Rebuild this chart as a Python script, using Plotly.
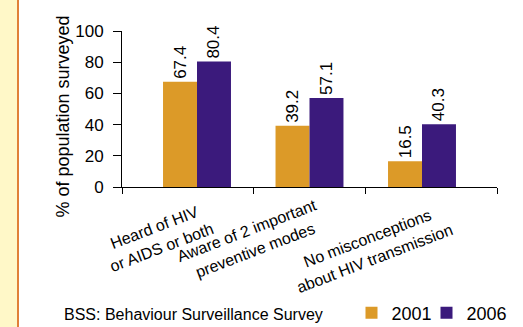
import math
import plotly.graph_objects as go

category_lines = [["Heard of HIV", "or AIDS or both"],
                  ["Aware of 2 important", "preventive modes"],
                  ["No misconceptions", "about HIV transmission"]]
years = ["2001", "2006"]
values_2001 = [67.4, 39.2, 16.5]
values_2006 = [80.4, 57.1, 40.3]
y_ticks = [0, 20, 40, 60, 80, 100]
y_title = "% of population surveyed"
footnote = "BSS: Behaviour Surveillance Survey"

C2001 = "#DC9A28"
C2006 = "#3B1A7C"
FONT = "Liberation Sans, Arial, sans-serif"

W, H = 523, 327
L, R, T, B = 122, 497, 31, 187  # plot area in pixels
XMIN, XMAX = -0.6667, len(category_lines) - 1 + 0.6667
UNIT = (R - L) / (XMAX - XMIN)

# approximate Arial advance widths (em) used only to place the rotated labels
_AW = {" ": .278, "A": .667, "D": .722, "H": .722, "I": .278, "N": .722, "V": .667, "S": .667,
       "a": .556, "b": .556, "c": .5, "d": .556, "e": .556, "f": .278, "h": .556, "i": .222,
       "l": .222, "m": .833, "n": .556, "o": .556, "p": .556, "r": .333, "s": .5, "t": .278,
       "u": .556, "v": .5, "w": .722, "y": .5, "2": .556}


def text_w(s, size):
    return sum(_AW.get(ch, .556) for ch in s) * size


def px_x(p):
    return (p - L) / (R - L)


def px_y(p):
    return (B - p) / (B - T)


def px_to_xdata(p):
    return (p - L) / UNIT + XMIN


xs = list(range(len(category_lines)))

fig = go.Figure()
for name, vals, col, lg in [(years[0], values_2001, C2001, "legend"),
                            (years[1], values_2006, C2006, "legend2")]:
    fig.add_trace(go.Bar(
        x=xs, y=vals, name=name, legend=lg, marker=dict(color=col, line=dict(width=0)),
        text=[f"{v:.1f}" for v in vals], textposition="outside", textangle=-90,
        textfont=dict(size=17, color="black", family=FONT),
        constraintext="none", cliponaxis=False,
    ))

annotations = []
ANG = 21
LINE = 21.0
FS = 16
BOXH = 22.0
sn, cs = math.sin(math.radians(ANG)), math.cos(math.radians(ANG))
label_centers = [(158, 237), (251, 240), (371, 248)]
for lines, (cx, cy) in zip(category_lines, label_centers):
    k = len(lines)
    for i, ln in enumerate(lines):
        off = (i - (k - 1) / 2) * LINE
        lx, ly = cx + sn * off, cy + cs * off
        half_h = ((text_w(ln, FS) + 4) * sn + BOXH * cs) / 2
        # x: data ref -> auto anchor is centre; y: paper ref below 1/3 -> auto anchor is bottom
        annotations.append(dict(text=ln, xref="x", yref="paper",
                                x=px_to_xdata(lx), y=px_y(ly + half_h),
                                textangle=-ANG, showarrow=False,
                                font=dict(size=FS, color="black", family=FONT)))
annotations.append(dict(text=y_title, xref="paper", yref="paper", x=px_x(62), y=px_y(116.5),
                        xanchor="center", yanchor="middle", textangle=-90, showarrow=False,
                        font=dict(size=18, color="black", family=FONT)))
annotations.append(dict(text=footnote, xref="paper", yref="paper", x=px_x(63), y=px_y(314),
                        xanchor="left", yanchor="middle", showarrow=False, borderpad=0,
                        font=dict(size=16, color="black", family=FONT)))

shapes = [
    dict(type="rect", xref="paper", yref="paper", x0=px_x(-2), x1=px_x(17), y0=px_y(-2), y1=px_y(H + 2),
         fillcolor="#FFF8C8", line=dict(width=0), layer="below"),
    dict(type="line", xref="paper", yref="paper", x0=px_x(18), x1=px_x(18), y0=px_y(-2), y1=px_y(H + 2),
         line=dict(color="#E08038", width=2)),
]

leg_common = dict(orientation="h", xanchor="left", yanchor="middle", y=px_y(313),
                  font=dict(size=18, color="black", family=FONT), itemwidth=30,
                  bgcolor="rgba(0,0,0,0)")
fig.update_layout(
    width=W, height=H,
    margin=dict(l=L, r=W - R, t=T, b=H - B, pad=0, autoexpand=False),
    paper_bgcolor="white", plot_bgcolor="white",
    barmode="group", bargap=0.396, bargroupgap=0,
    font=dict(family=FONT, color="black"),
    xaxis=dict(range=[XMIN, XMAX], showline=True, linecolor="black", linewidth=1,
               ticks="outside", ticklen=6, tickcolor="black",
               tickvals=[XMIN, 0.5, 1.5, XMAX], ticktext=["", "", "", ""],
               showgrid=False, zeroline=False, fixedrange=True),
    yaxis=dict(range=[0, 100], tickvals=y_ticks, showline=True, linecolor="black", linewidth=1,
               ticks="outside", ticklen=8, tickcolor="black", showgrid=False, zeroline=False,
               tickfont=dict(size=17, color="black", family=FONT), ticklabelstandoff=6),
    showlegend=True,
    legend=dict(x=px_x(351.5), **leg_common),
    legend2=dict(x=px_x(426.5), **leg_common),
    annotations=annotations, shapes=shapes,
)

fig.write_html("out.html")
